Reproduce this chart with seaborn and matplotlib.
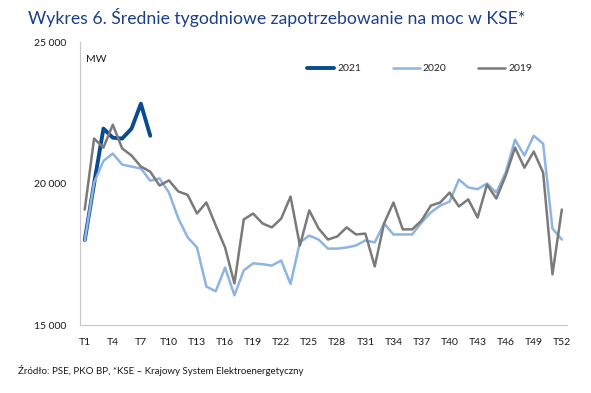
import matplotlib
matplotlib.use('Agg')
import matplotlib.pyplot as plt
import matplotlib.ticker as mticker
import numpy as np
import pandas as pd
import seaborn as sns

# Weekly average demand (MW)
weeks = list(range(1, 53))
tick_weeks = list(range(1, 53, 3))
tick_labels = ['T%d' % w for w in tick_weeks]

y2021 = [18000, 20000, 21940, 21620, 21590, 21940, 22820, 21690]

y2020 = [17980, 20030, 20800, 21060, 20670, 20600, 20530, 20100, 20180, 19680,
         18770, 18100, 17740, 16360, 16190, 17030, 16050, 16930, 17180, 17150,
         17100, 17280, 16450, 17920, 18160, 18020, 17700, 17700, 17740, 17810,
         17990, 17920, 18590, 18200, 18200, 18200, 18620, 18980, 19220, 19360,
         20140, 19860, 19800, 20000, 19680, 20390, 21550, 20990, 21690, 21410,
         18410, 18020]

y2019 = [19080, 21590, 21270, 22080, 21240, 20990, 20600, 20420, 19930, 20110,
         19720, 19600, 18940, 19330, 18520, 17740, 16470, 18730, 18940, 18590,
         18450, 18760, 19540, 17810, 19050, 18410, 18020, 18130, 18450, 18200,
         18230, 17070, 18590, 19330, 18380, 18380, 18690, 19220, 19330, 19680,
         19190, 19440, 18800, 19960, 19470, 20280, 21270, 20560, 21130, 20390,
         16790, 19080]

series = ['2021', '2020', '2019']
colors = {'2021': '#084b91', '2020': '#8db4e3', '2019': '#7a7a7a'}
widths = {'2021': 2.8, '2020': 1.8, '2019': 1.8}

df = pd.concat([
    pd.DataFrame({'week': weeks[:len(y2021)], 'value': y2021, 'year': '2021'}),
    pd.DataFrame({'week': weeks, 'value': y2020, 'year': '2020'}),
    pd.DataFrame({'week': weeks, 'value': y2019, 'year': '2019'}),
])

sns.set_style('white')
plt.rcParams['font.family'] = ['Lato', 'DejaVu Sans']

fig = plt.figure(figsize=(5.91, 3.93), dpi=100)
ax = fig.add_axes([0.135, 0.173, 0.824, 0.72])

for s in series:
    sns.lineplot(data=df[df['year'] == s], x='week', y='value', ax=ax,
                 color=colors[s], linewidth=widths[s], label=s)

ax.set_xlim(0.47, 52.53)
ax.set_ylim(15000, 25000)
ax.set_yticks([15000, 20000, 25000])
ax.yaxis.set_major_formatter(mticker.FuncFormatter(lambda v, p: '{:,.0f}'.format(v).replace(',', ' ')))
ax.set_xticks(tick_weeks)
ax.set_xticklabels(tick_labels)
ax.set_xticks(weeks, minor=True)
ax.set_xlabel('')
ax.set_ylabel('')

for side in ['top', 'right']:
    ax.spines[side].set_visible(False)
for side in ['left', 'bottom']:
    ax.spines[side].set_color('#c8c8c8')
    ax.spines[side].set_linewidth(0.8)

ax.tick_params(axis='both', which='both', direction='out', color='#c8c8c8',
               labelsize=7.5, labelcolor='#1a1a1a')
ax.tick_params(axis='y', length=4, pad=6)
ax.tick_params(axis='x', which='major', length=4, pad=5)
ax.tick_params(axis='x', which='minor', length=3)

ax.text(0.012, 0.93, 'MW', transform=ax.transAxes, fontsize=7.5, color='#1a1a1a')

ax.legend(loc='upper left', bbox_to_anchor=(0.448, 0.955), ncol=3, frameon=False,
          fontsize=7.5, handlelength=2.6, handletextpad=0.3, columnspacing=3.0)

fig.text(0.047, 0.955, 'Wykres 6. Średnie tygodniowe zapotrzebowanie na moc w KSE*',
         fontsize=12.7, color='#1d3f8a', va='center')
fig.text(0.03, 0.056, 'Źródło: PSE, PKO BP, *KSE – Krajowy System Elektroenergetyczny',
         fontsize=7, color='#1a1a1a', va='center')

fig.savefig('out.png', dpi=100)
